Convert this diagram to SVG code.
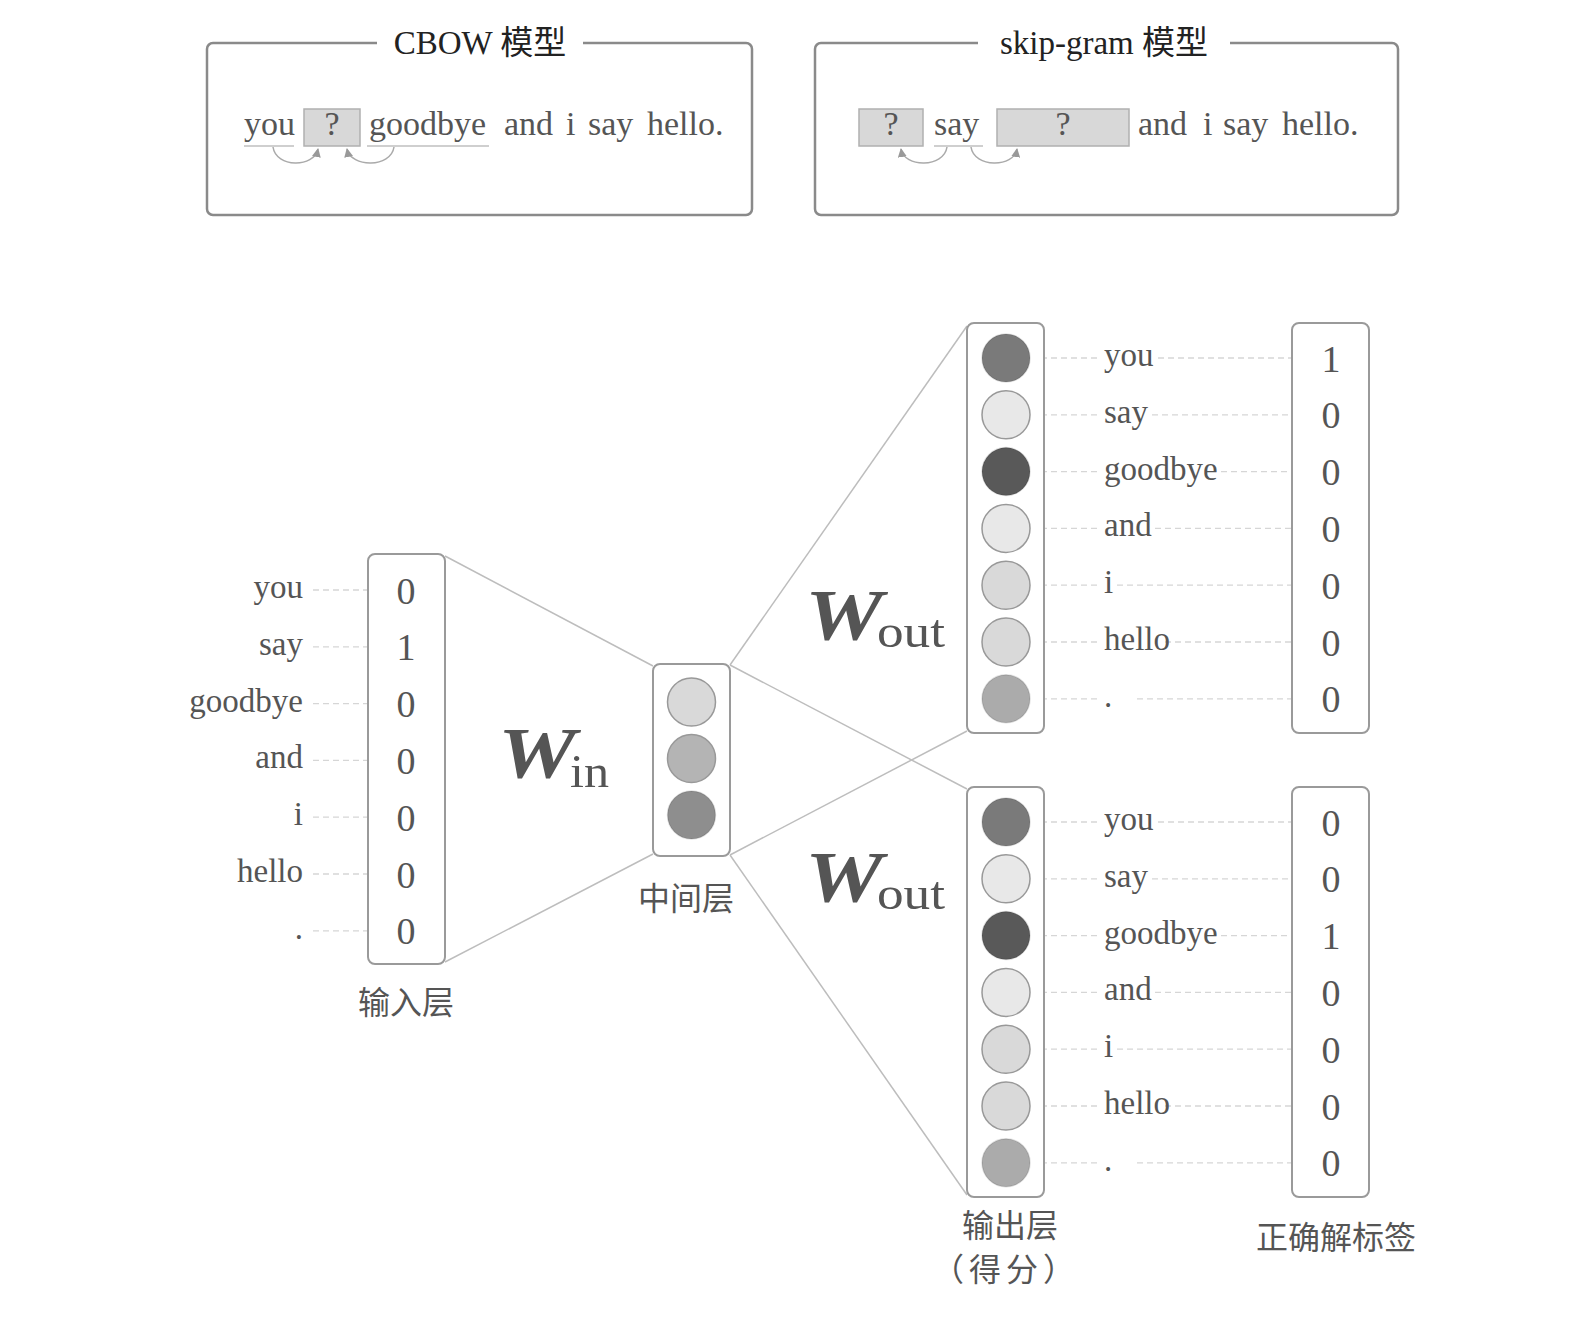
<svg xmlns="http://www.w3.org/2000/svg" width="1576" height="1330" viewBox="0 0 1576 1330">
<style>
.frame{fill:none;stroke:#8a8a8a;stroke-width:2.5}
.box{fill:#fff;stroke:#9a9a9a;stroke-width:2}
.qbox{fill:#d8d8d8;stroke:#b0b0b0;stroke-width:1.5}
.title{font-family:"Liberation Serif","Noto Sans CJK SC",serif;font-size:33px;fill:#222}
.sent{font-family:"Liberation Serif",serif;font-size:34px;fill:#555}
.word{font-family:"Liberation Serif",serif;font-size:33px;fill:#555}
.dig{font-family:"Liberation Serif",serif;font-size:38px;fill:#555;text-anchor:middle}
.cjk{font-family:"Noto Sans CJK SC",sans-serif;font-size:32px;fill:#555;text-anchor:middle}
.W{font-family:"Liberation Serif",serif;font-size:72px;font-weight:bold;font-style:italic;fill:#555}
.sub{font-family:"Liberation Serif",serif;font-size:46px;fill:#555}
.ul{stroke:#cfcfcf;stroke-width:2}
.arc{fill:none;stroke:#aaa;stroke-width:1.5}
.dash{stroke:#d6d6d6;stroke-width:1.3;stroke-dasharray:6 4}
.conn{stroke:#bdbdbd;stroke-width:1.5;fill:none}
.c{stroke:#999;stroke-width:1.5}
.cd{stroke:rgba(0,0,0,0.12);stroke-width:1.5}
</style>
<defs>
<marker id="ah" viewBox="0 0 10 10" refX="9" refY="5" markerWidth="9" markerHeight="9" markerUnits="userSpaceOnUse" orient="auto">
<path d="M0,0 L10,5 L0,10 z" fill="#999"/>
</marker>
</defs>

<g id="cbow">
<path class="frame" d="M377,43 H213 a6,6 0 0 0 -6,6 V209 a6,6 0 0 0 6,6 H746 a6,6 0 0 0 6,-6 V49 a6,6 0 0 0 -6,-6 H583"/>
<text class="title" x="480" y="54" text-anchor="middle">CBOW 模型</text>
<text class="sent" x="244" y="135">you</text>
<rect class="qbox" x="304" y="109" width="56" height="37"/>
<text class="sent" x="332" y="135" text-anchor="middle">?</text>
<text class="sent" x="369" y="135">goodbye</text>
<text class="sent" x="504" y="135">and</text>
<text class="sent" x="566" y="135">i</text>
<text class="sent" x="588" y="135">say</text>
<text class="sent" x="647" y="135">hello.</text>
<line class="ul" x1="244" y1="146" x2="294" y2="146"/>
<line class="ul" x1="367" y1="146" x2="489" y2="146"/>
<path class="arc" d="M273,147 C276,168 314,168 318,149" marker-end="url(#ah)"/>
<path class="arc" d="M394,147 C391,168 351,168 347,149" marker-end="url(#ah)"/>
</g>

<g id="skipgram">
<path class="frame" d="M978,43 H821 a6,6 0 0 0 -6,6 V209 a6,6 0 0 0 6,6 H1392 a6,6 0 0 0 6,-6 V49 a6,6 0 0 0 -6,-6 H1230"/>
<text class="title" x="1104" y="54" text-anchor="middle">skip-gram 模型</text>
<rect class="qbox" x="859" y="109" width="64" height="37"/>
<text class="sent" x="891" y="135" text-anchor="middle">?</text>
<text class="sent" x="934" y="135">say</text>
<rect class="qbox" x="997" y="109" width="132" height="37"/>
<text class="sent" x="1063" y="135" text-anchor="middle">?</text>
<text class="sent" x="1138" y="135">and</text>
<text class="sent" x="1203" y="135">i</text>
<text class="sent" x="1223" y="135">say</text>
<text class="sent" x="1282" y="135">hello.</text>
<line class="ul" x1="934" y1="146" x2="983" y2="146"/>
<path class="arc" d="M947,147 C944,168 904,168 901,149" marker-end="url(#ah)"/>
<path class="arc" d="M971,147 C974,168 1014,168 1017,149" marker-end="url(#ah)"/>
</g>

<g id="connectors">
<line class="conn" x1="445" y1="556" x2="653" y2="666"/>
<line class="conn" x1="445" y1="962" x2="653" y2="854"/>
<line class="conn" x1="730" y1="665" x2="967" y2="326"/>
<line class="conn" x1="730" y1="855" x2="967" y2="731"/>
<line class="conn" x1="730" y1="665" x2="967" y2="789"/>
<line class="conn" x1="730" y1="855" x2="967" y2="1195"/>
</g>

<g id="input-labels">
<g class="dashes">
<line class="dash" x1="313" y1="590" x2="382" y2="590"/>
<line class="dash" x1="313" y1="646.8" x2="382" y2="646.8"/>
<line class="dash" x1="313" y1="703.6" x2="382" y2="703.6"/>
<line class="dash" x1="313" y1="760.4" x2="382" y2="760.4"/>
<line class="dash" x1="313" y1="817.2" x2="382" y2="817.2"/>
<line class="dash" x1="313" y1="874" x2="382" y2="874"/>
<line class="dash" x1="313" y1="930.8" x2="382" y2="930.8"/>
</g>
<text class="word" text-anchor="end" x="303" y="598">you</text>
<text class="word" text-anchor="end" x="303" y="654.8">say</text>
<text class="word" text-anchor="end" x="303" y="711.6">goodbye</text>
<text class="word" text-anchor="end" x="303" y="768.4">and</text>
<text class="word" text-anchor="end" x="303" y="825.2">i</text>
<text class="word" text-anchor="end" x="303" y="882">hello</text>
<text class="word" text-anchor="end" x="303" y="938.8">.</text>
</g>

<g id="input-layer">
<rect class="box" x="368" y="554" width="77" height="410" rx="7"/>
<text class="dig" x="406" y="603.5">0</text>
<text class="dig" x="406" y="660.3">1</text>
<text class="dig" x="406" y="717.1">0</text>
<text class="dig" x="406" y="773.9">0</text>
<text class="dig" x="406" y="830.7">0</text>
<text class="dig" x="406" y="887.5">0</text>
<text class="dig" x="406" y="944.3">0</text>
<text class="cjk" x="406" y="1014">输入层</text>
</g>

<g id="w-in">
<text class="W" x="498" y="777" textLength="78" lengthAdjust="spacingAndGlyphs">W</text>
<text class="sub" x="570" y="787" textLength="39" lengthAdjust="spacingAndGlyphs">in</text>
</g>

<g id="hidden-layer">
<rect class="box" x="653" y="664" width="77" height="192" rx="7"/>
<circle class="c" cx="691.5" cy="702" r="24" fill="#d9d9d9"/>
<circle class="c" cx="691.5" cy="758.5" r="24" fill="#b4b4b4"/>
<circle class="cd" cx="691.5" cy="815" r="24" fill="#8e8e8e"/>
<text class="cjk" x="686" y="910">中间层</text>
</g>

<g id="w-out-top">
<text class="W" x="805" y="639" textLength="78" lengthAdjust="spacingAndGlyphs">W</text>
<text class="sub" x="877" y="647" textLength="68" lengthAdjust="spacingAndGlyphs">out</text>
</g>
<g id="w-out-bottom">
<text class="W" x="805" y="901" textLength="78" lengthAdjust="spacingAndGlyphs">W</text>
<text class="sub" x="877" y="909" textLength="68" lengthAdjust="spacingAndGlyphs">out</text>
</g>

<g id="output-top-dashes">
<line class="dash" x1="1031" y1="358" x2="1099" y2="358"/><line class="dash" x1="1158" y1="358" x2="1307" y2="358"/>
<line class="dash" x1="1031" y1="414.8" x2="1099" y2="414.8"/><line class="dash" x1="1152" y1="414.8" x2="1307" y2="414.8"/>
<line class="dash" x1="1031" y1="471.6" x2="1099" y2="471.6"/><line class="dash" x1="1221" y1="471.6" x2="1307" y2="471.6"/>
<line class="dash" x1="1031" y1="528.4" x2="1099" y2="528.4"/><line class="dash" x1="1155" y1="528.4" x2="1307" y2="528.4"/>
<line class="dash" x1="1031" y1="585.2" x2="1099" y2="585.2"/><line class="dash" x1="1117" y1="585.2" x2="1307" y2="585.2"/>
<line class="dash" x1="1031" y1="642" x2="1099" y2="642"/><line class="dash" x1="1165" y1="642" x2="1307" y2="642"/>
<line class="dash" x1="1031" y1="698.8" x2="1099" y2="698.8"/><line class="dash" x1="1137" y1="698.8" x2="1307" y2="698.8"/>
</g>
<g id="output-bottom-dashes">
<line class="dash" x1="1031" y1="822" x2="1099" y2="822"/><line class="dash" x1="1158" y1="822" x2="1307" y2="822"/>
<line class="dash" x1="1031" y1="878.8" x2="1099" y2="878.8"/><line class="dash" x1="1152" y1="878.8" x2="1307" y2="878.8"/>
<line class="dash" x1="1031" y1="935.6" x2="1099" y2="935.6"/><line class="dash" x1="1221" y1="935.6" x2="1307" y2="935.6"/>
<line class="dash" x1="1031" y1="992.4" x2="1099" y2="992.4"/><line class="dash" x1="1155" y1="992.4" x2="1307" y2="992.4"/>
<line class="dash" x1="1031" y1="1049.2" x2="1099" y2="1049.2"/><line class="dash" x1="1117" y1="1049.2" x2="1307" y2="1049.2"/>
<line class="dash" x1="1031" y1="1106" x2="1099" y2="1106"/><line class="dash" x1="1165" y1="1106" x2="1307" y2="1106"/>
<line class="dash" x1="1031" y1="1162.8" x2="1099" y2="1162.8"/><line class="dash" x1="1137" y1="1162.8" x2="1307" y2="1162.8"/>
</g>

<g id="output-layer-top">
<rect class="box" x="967" y="323" width="77" height="410" rx="7"/>
<circle class="cd" cx="1006" cy="358" r="24" fill="#7a7a7a"/>
<circle class="c" cx="1006" cy="414.8" r="24" fill="#e8e8e8"/>
<circle class="cd" cx="1006" cy="471.6" r="24" fill="#595959"/>
<circle class="c" cx="1006" cy="528.4" r="24" fill="#e8e8e8"/>
<circle class="c" cx="1006" cy="585.2" r="24" fill="#d9d9d9"/>
<circle class="c" cx="1006" cy="642" r="24" fill="#d9d9d9"/>
<circle class="cd" cx="1006" cy="698.8" r="24" fill="#ababab"/>
</g>

<g id="output-labels-top">
<text class="word" x="1104" y="366">you</text>
<text class="word" x="1104" y="422.8">say</text>
<text class="word" x="1104" y="479.6">goodbye</text>
<text class="word" x="1104" y="536.4">and</text>
<text class="word" x="1104" y="593.2">i</text>
<text class="word" x="1104" y="650">hello</text>
<text class="word" x="1104" y="706.8">.</text>
</g>

<g id="target-top">
<rect class="box" x="1292" y="323" width="77" height="410" rx="7"/>
<text class="dig" x="1331" y="371.5">1</text>
<text class="dig" x="1331" y="428.3">0</text>
<text class="dig" x="1331" y="485.1">0</text>
<text class="dig" x="1331" y="541.9">0</text>
<text class="dig" x="1331" y="598.7">0</text>
<text class="dig" x="1331" y="655.5">0</text>
<text class="dig" x="1331" y="712.3">0</text>
</g>

<g id="output-layer-bottom">
<rect class="box" x="967" y="787" width="77" height="410" rx="7"/>
<circle class="cd" cx="1006" cy="822" r="24" fill="#7a7a7a"/>
<circle class="c" cx="1006" cy="878.8" r="24" fill="#e8e8e8"/>
<circle class="cd" cx="1006" cy="935.6" r="24" fill="#595959"/>
<circle class="c" cx="1006" cy="992.4" r="24" fill="#e8e8e8"/>
<circle class="c" cx="1006" cy="1049.2" r="24" fill="#d9d9d9"/>
<circle class="c" cx="1006" cy="1106" r="24" fill="#d9d9d9"/>
<circle class="cd" cx="1006" cy="1162.8" r="24" fill="#ababab"/>
<text class="cjk" x="1010" y="1237">输出层</text>
<text class="cjk" x="1006" y="1281" letter-spacing="5">（得分）</text>
</g>

<g id="output-labels-bottom">
<text class="word" x="1104" y="830">you</text>
<text class="word" x="1104" y="886.8">say</text>
<text class="word" x="1104" y="943.6">goodbye</text>
<text class="word" x="1104" y="1000.4">and</text>
<text class="word" x="1104" y="1057.2">i</text>
<text class="word" x="1104" y="1114">hello</text>
<text class="word" x="1104" y="1170.8">.</text>
</g>

<g id="target-bottom">
<rect class="box" x="1292" y="787" width="77" height="410" rx="7"/>
<text class="dig" x="1331" y="835.5">0</text>
<text class="dig" x="1331" y="892.3">0</text>
<text class="dig" x="1331" y="949.1">1</text>
<text class="dig" x="1331" y="1005.9">0</text>
<text class="dig" x="1331" y="1062.7">0</text>
<text class="dig" x="1331" y="1119.5">0</text>
<text class="dig" x="1331" y="1176.3">0</text>
<text class="cjk" x="1336" y="1249">正确解标签</text>
</g>
</svg>
